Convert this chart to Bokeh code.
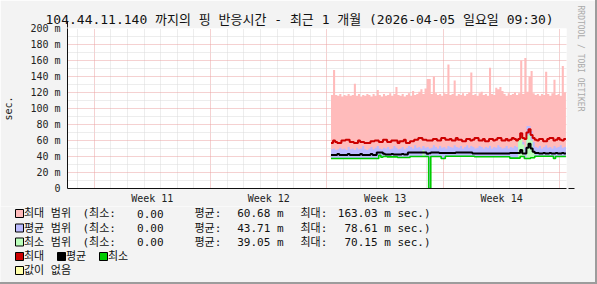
import numpy as np
from bokeh.plotting import figure
from bokeh.layouts import column, row
from bokeh.models import FixedTicker, Arrow, NormalHead, Range1d, Title
from bokeh.core.properties import value
from bokeh.embed import file_html
from bokeh.resources import INLINE

# ---------------- data ----------------
# time axis: days since graph start (2026-03-06 09:30); one sample = 3 h
t_start = 15.84
t_step = 0.125

max_top = [117, 148, 117, 116, 118, 115, 117, 116, 118, 116,
           117, 131, 116, 118, 115, 117, 116, 118, 117, 115,
           118, 116, 123, 117, 115, 118, 116, 117, 119, 116,
           118, 127, 117, 116, 118, 115, 117, 119, 116, 122,
           117, 118, 121, 124, 118, 125, 137, 137, 118, 140,
           119, 117, 118, 116, 119, 118, 155, 117, 118, 135,
           116, 118, 117, 119, 116, 118, 120, 145, 117, 118,
           116, 119, 121, 117, 118, 116, 151, 118, 117, 126,
           124, 127, 122, 118, 116, 119, 117, 118, 120, 117,
           119, 160, 118, 163, 121, 140, 147, 119, 117, 118,
           116, 118, 117, 146, 118, 116, 119, 136, 117, 118,
           116, 153, 120]

avg_top = [49, 50, 48, 49, 51, 49, 50, 48, 52, 49,
           50, 48, 51, 49, 50, 53, 49, 48, 50, 52,
           49, 51, 53, 50, 49, 51, 50, 52, 49, 50,
           53, 51, 49, 50, 52, 49, 51, 53, 52, 50,
           54, 51, 52, 50, 53, 51, 52, 50, 51, 54,
           52, 50, 53, 51, 52, 50, 53, 52, 51, 54,
           52, 51, 53, 50, 52, 54, 51, 53, 52, 50,
           51, 53, 52, 50, 52, 51, 53, 50, 52, 51,
           54, 52, 50, 51, 53, 50, 52, 51, 53, 52,
           60, 70, 58, 52, 78, 78, 72, 58, 52, 51,
           53, 50, 52, 54, 51, 52, 50, 53, 51, 52,
           54, 51, 52]

max_line = [57, 60, 58, 57, 57, 60, 60, 61, 61, 58,
            58, 57, 57, 60, 58, 58, 57, 57, 57, 59,
            59, 60, 60, 58, 58, 61, 61, 58, 58, 60,
            60, 60, 57, 59, 59, 61, 57, 57, 59, 59,
            61, 61, 63, 63, 61, 61, 60, 60, 60, 62,
            62, 60, 60, 63, 63, 61, 61, 62, 60, 60,
            63, 61, 61, 59, 59, 62, 62, 60, 61, 63,
            63, 60, 60, 62, 59, 59, 62, 62, 60, 61,
            63, 63, 60, 60, 62, 60, 61, 63, 62, 60,
            62, 69, 63, 62, 70, 74, 67, 63, 61, 60,
            62, 62, 59, 59, 62, 63, 63, 60, 61, 63,
            61, 60, 62]

avg_line = [42, 42, 42, 43, 42, 42, 42, 42, 43, 42,
            42, 42, 42, 42, 43, 42, 42, 42, 42, 43,
            42, 42, 45, 45, 45, 43.5, 42.5, 42.5, 42.5, 43,
            42.5, 42.5, 42.5, 42.5, 43, 42.5, 42.5, 45, 45, 45,
            45, 45, 45, 45, 45, 45, 43.5, 44, 45, 45,
            45, 45, 44.5, 44.5, 44.5, 44.5, 44.5, 44.5, 44.5, 44.5,
            45, 45, 45, 45, 45, 45, 45, 45, 43.7, 43.7,
            43.7, 43.7, 43.7, 43.7, 43.7, 43.7, 43.7, 43.7, 43.7, 43.7,
            43.7, 43.7, 43.7, 43.7, 43.7, 43.7, 44.5, 44.5, 44.5, 44.5,
            44.5, 48, 43.7, 43.7, 51, 56, 50, 46, 44.5, 44.5,
            43.7, 43.7, 44.5, 43.7, 43.7, 44.5, 43.7, 43.7, 44.5, 43.7,
            43.7, 44.5, 43.7]

min_line = [37.5, 37.5, 37.5, 37.5, 37.5, 37.5, 37.5, 37.5, 37.5, 37.5,
            37.5, 37.5, 37.5, 37.5, 37.5, 37.5, 37.5, 37.5, 37.5, 37.5,
            37.5, 37.5, 37.5, 41.5, 39, 40, 40, 39.5, 39.5, 39.5,
            39.5, 39.5, 38.7, 38.7, 38.7, 38.7, 38.7, 38.7, 40, 40,
            40, 40, 40, 40, 40, 40, 40, 0, 40, 40,
            40, 40, 40, 37.5, 37.5, 40.4, 40.4, 40.4, 40.4, 40.4,
            40.4, 40.4, 40.4, 40.4, 40.4, 40.4, 40.4, 40.4, 40.4, 39.6,
            39.6, 39.6, 39.6, 39.6, 39.6, 39.6, 39.6, 39.6, 39.6, 39.6,
            39.6, 39.6, 39.6, 39.6, 39.6, 39.6, 38, 38, 38, 38,
            38, 40, 40, 37.5, 37.5, 37.5, 38.5, 38.5, 40.4, 40.4,
            40.4, 40.4, 40.4, 40.4, 40.4, 40.4, 40.4, 37.5, 40, 40,
            40, 40, 40]

min_top = [37.5, 37.5, 37.5, 37.5, 37.5, 37.5, 37.5, 37.5, 37.5, 37.5,
           37.5, 37.5, 37.5, 37.5, 37.5, 37.5, 37.5, 37.5, 37.5, 37.5,
           37.5, 37.5, 37.5, 41.5, 39, 40, 40, 39.5, 39.5, 39.5,
           39.5, 39.5, 38.7, 38.7, 38.7, 38.7, 38.7, 38.7, 40, 40,
           40, 40, 40, 40, 48, 40, 40, 0, 40, 40,
           40, 40, 40, 37.5, 37.5, 40.4, 40.4, 40.4, 40.4, 40.4,
           40.4, 40.4, 40.4, 40.4, 40.4, 40.4, 40.4, 40.4, 40.4, 39.6,
           39.6, 39.6, 39.6, 39.6, 39.6, 39.6, 39.6, 39.6, 39.6, 39.6,
           39.6, 39.6, 39.6, 39.6, 39.6, 39.6, 38, 38, 38, 38,
           62, 70, 55, 37.5, 66, 68, 60, 45, 40.4, 40.4,
           40.4, 40.4, 40.4, 40.4, 40.4, 40.4, 40.4, 37.5, 40, 40,
           40, 40, 40]

y_ticks = [0, 20, 40, 60, 80, 100, 120, 140, 160, 180, 200]
y_minor = [10, 30, 50, 70, 90, 110, 130, 150, 170, 190]
y_labels = ["0", "20 m", "40 m", "60 m", "80 m", "100 m", "120 m", "140 m", "160 m", "180 m", "200 m"]
week_lines = [1.6, 8.6, 15.6, 22.6, 29.6]
day_lines = [0.6, 2.6, 3.6, 4.6, 5.6, 6.6, 7.6, 9.6, 10.6, 11.6, 12.6, 13.6, 14.6,
             16.6, 17.6, 18.6, 19.6, 20.6, 21.6, 23.6, 24.6, 25.6, 26.6, 27.6, 28.6]
week_label_pos = [5.1, 12.1, 19.1, 26.1]
week_labels = ["Week 11", "Week 12", "Week 13", "Week 14"]

title = "104.44.11.140 까지의 핑 반응시간 - 최근 1 개월 (2026-04-05 일요일 09:30)"
legend_names = ["최대 범위", "평균 범위", "최소 범위"]
legend_min = ["0.00", "0.00", "0.00"]
legend_avg = ["60.68 m", "43.71 m", "39.05 m"]
legend_max = ["163.03 m sec.)", "78.61 m sec.)", "70.15 m sec.)"]
line_names = ["최대", "평균", "최소"]
nodata_name = "값이 없음"

# ---------------- styles ----------------
MONO = "'DejaVu Sans Mono', 'Noto Sans CJK KR', monospace"
BG = "#F3F3F3"
C_PINK, C_PURPLE, C_LGREEN = "#FFBBBB", "#BBBBFF", "#BBFFBB"
C_RED, C_BLACK, C_GREEN, C_YELLOW = "#CC0000", "#000000", "#00CC00", "#FFFFAA"

n = len(max_top)
for arr in (avg_top, max_line, avg_line, min_line, min_top):
    assert len(arr) == n
t = [t_start + t_step * i for i in range(n + 1)]


def ext(a):
    return list(a) + [a[-1]]


W = 595            # + 2 px right border = 597
TOP_H, BOT_H = 206, 76   # + 2 px bottom border = 284
FL, FT, FR, FB = 67, 28, 567, 188

# ================= main chart =================
p = figure(width=W, height=TOP_H, output_backend="svg", toolbar_location=None,
           x_range=Range1d(0, 30), y_range=Range1d(0, 200),
           min_border_left=FL, min_border_right=W - FR,
           min_border_top=FT, min_border_bottom=TOP_H - FB)
p.background_fill_color = "white"
p.border_fill_color = BG
p.outline_line_color = None

p.title.text = title
p.title.align = "left"
p.title.offset = -22
p.title.standoff = 3
p.title.text_font = MONO
p.title.text_font_size = "13px"
p.title.text_font_style = "normal"
p.title.text_color = "#111111"

p.add_layout(Title(text="RRDTOOL / TOBI OETIKER", align="left", offset=-23, standoff=18,
                   text_font=MONO, text_font_size="8px", text_font_style="normal",
                   text_color="#AAAAAA"), "right")

# grids
p.xgrid.ticker = FixedTicker(ticks=week_lines, minor_ticks=day_lines)
p.ygrid.ticker = FixedTicker(ticks=y_ticks, minor_ticks=y_minor)
for g in (p.xgrid, p.ygrid):
    g.grid_line_color = "#EBA3A3"
    g.grid_line_dash = "1 1"
    g.grid_line_width = 1
    g.minor_grid_line_color = "#DADADA"
    g.minor_grid_line_dash = "1 1"
    g.level = "underlay"

# axes
p.xaxis.ticker = FixedTicker(ticks=week_label_pos)
p.xaxis.major_label_overrides = dict(zip(week_label_pos, week_labels))
p.yaxis.ticker = FixedTicker(ticks=y_ticks)
p.yaxis.major_label_overrides = dict(zip(y_ticks, y_labels))
for ax in (p.xaxis, p.yaxis):
    ax.axis_line_color = "#111111"
    ax.major_tick_line_color = None
    ax.minor_tick_line_color = None
    ax.major_tick_out = 0
    ax.major_tick_in = 0
    ax.major_label_text_font = MONO
    ax.major_label_text_font_size = "10px"
    ax.major_label_text_color = "#222222"
p.xaxis.major_label_standoff = 4
p.yaxis.major_label_standoff = 7
p.yaxis.axis_label = "sec."
p.yaxis.axis_label_text_font = MONO
p.yaxis.axis_label_text_font_size = "10px"
p.yaxis.axis_label_text_font_style = "normal"
p.yaxis.axis_label_text_color = "#222222"
p.yaxis.axis_label_standoff = 13

# areas
p.varea_step(x=t, y1=ext(min_line), y2=ext(max_top), step_mode="after", fill_color=C_PINK)
p.varea_step(x=t, y1=ext(min_line), y2=ext(avg_top), step_mode="after", fill_color=C_PURPLE)
p.varea_step(x=t, y1=ext(min_line), y2=ext(min_top), step_mode="after", fill_color=C_LGREEN)
# lines
p.step(x=t, y=ext(max_line), mode="after", line_color=C_RED, line_width=2)
p.step(x=t, y=ext(avg_line), mode="after", line_color=C_BLACK, line_width=2)
p.step(x=t, y=ext(min_line), mode="after", line_color=C_GREEN, line_width=1.6)

# axis arrows
p.add_layout(Arrow(x_start=0, y_start=FB - FT, x_end=0, y_end=FB - FT + 7,
                   start_units="screen", end_units="screen", line_color="#111111", line_width=1,
                   end=NormalHead(size=6, fill_color="#A01010", line_color="#A01010")))
p.add_layout(Arrow(x_start=FR - FL, y_start=0, x_end=FR - FL + 7, y_end=0,
                   start_units="screen", end_units="screen", line_color="#111111", line_width=1,
                   end=NormalHead(size=6, fill_color="#A01010", line_color="#A01010")))

# ================= legend strip (canvas pixel coordinates) =================
Y0 = TOP_H
q = figure(width=W, height=BOT_H, output_backend="svg", toolbar_location=None,
           x_range=Range1d(0, W), y_range=Range1d(Y0 + BOT_H, Y0),
           x_axis_type=None, y_axis_type=None, min_border=0,
           min_border_left=0, min_border_right=0, min_border_top=0, min_border_bottom=0)
q.background_fill_color = BG
q.border_fill_color = BG
q.outline_line_color = None
q.grid.visible = False

rows_y = [213, 227.5, 241.5, 256, 270]
box_x, box_y, box_c = [], [], []
lt_x, lt_y, lt_t = [], [], []   # left aligned texts
rt_x, rt_y, rt_t = [], [], []   # right aligned texts
for k, col in enumerate((C_PINK, C_PURPLE, C_LGREEN)):
    Y = rows_y[k]
    box_x.append(15); box_y.append(Y); box_c.append(col)
    lt_x += [23.5, 82, 194, 300]
    lt_y += [Y] * 4
    lt_t += [legend_names[k], "(최소:", "평균:", "최대:"]
    rt_x += [163, 283, 430]
    rt_y += [Y] * 3
    rt_t += [legend_min[k], legend_avg[k], legend_max[k]]
for X, col, name in zip((15, 57, 99), (C_RED, C_BLACK, C_GREEN), line_names):
    box_x.append(X); box_y.append(rows_y[3]); box_c.append(col)
    lt_x.append(X + 8.5); lt_y.append(rows_y[3]); lt_t.append(name)
box_x.append(15); box_y.append(rows_y[4]); box_c.append(C_YELLOW)
lt_x.append(23.5); lt_y.append(rows_y[4]); lt_t.append(nodata_name)

q.quad(left=box_x, right=[x + 8 for x in box_x],
       top=[y - 4 for y in box_y], bottom=[y + 4 for y in box_y],
       fill_color=box_c, line_color="black", line_width=1)
q.text(x=lt_x, y=lt_y, text=lt_t, text_font=value(MONO), text_font_size="11px",
       text_align="left", text_baseline="middle", text_color="#111111")
q.text(x=rt_x, y=rt_y, text=rt_t, text_font=value(MONO), text_font_size="11px",
       text_align="right", text_baseline="middle", text_color="#111111")

layout = column(p, row(q, spacing=0), spacing=0,
                styles={"border-right": "2px solid #9C9C9C",
                        "border-bottom": "2px solid #9C9C9C"})
open("out.html", "w").write(file_html(layout, INLINE))
